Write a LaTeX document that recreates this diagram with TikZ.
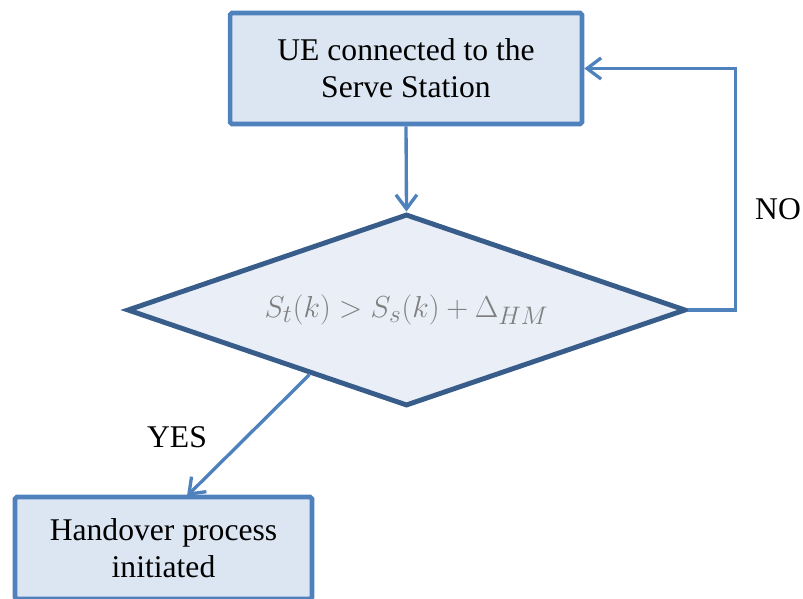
\documentclass[tikz,border=0pt]{standalone}
\usepackage{fontspec}
\setmainfont{Liberation Serif}
\usetikzlibrary{shapes.geometric,arrows.meta,calc}

\definecolor{boxline}{HTML}{4F81BD}
\definecolor{boxfill}{HTML}{DCE6F2}
\definecolor{decline}{HTML}{385D8A}
\definecolor{decfill}{HTML}{E9EEF7}
\definecolor{mathgray}{HTML}{7F7F7F}

\begin{document}
\begin{tikzpicture}[x=0.02cm,y=-0.02cm,->,>={Straight Barb[length=8pt,width=12pt]},
  font=\fontsize{18}{21}\selectfont,
  stepbox/.style={draw=boxline,fill=boxfill,line width=2.6pt,rounded corners=1pt,
    align=center,inner sep=0pt},
  decbox/.style={diamond,draw=decline,fill=decfill,line width=2.8pt,inner sep=0pt,
    aspect=2.9,minimum width=11.18cm,minimum height=3.84cm},
  link/.style={draw=boxline,line width=1.9pt}]

\useasboundingbox (0,0) rectangle (803,598);
\clip (0,0) rectangle (803,598);

\node [stepbox,minimum width=7.04cm,minimum height=2.22cm] (u) at (406,68.5)
  {UE connected to the\\Serve Station};
\node [decbox] (d) at (406.5,310)
  {\textcolor{mathgray}{\fontsize{19}{21}\selectfont$S_t(k) > S_s(k) + \Delta_{HM}$}};
\node [stepbox,minimum width=5.94cm,minimum height=2.04cm] (h) at (163.5,548)
  {Handover process\\initiated};

\node (no) at (778,209) {NO};
\node (yes) at (177,437) {YES};

\coordinate (y0) at ($(d.west)!0.656!(d.south)$);
\coordinate (y1) at (187,496);

\path [link]
    (u.south) -- (d.north)
;
\path [link]
    (d.east) -- ++(47,0) |- (u.east)
;
\path [link]
    (y0) -- (y1)
;

\end{tikzpicture}
\end{document}
